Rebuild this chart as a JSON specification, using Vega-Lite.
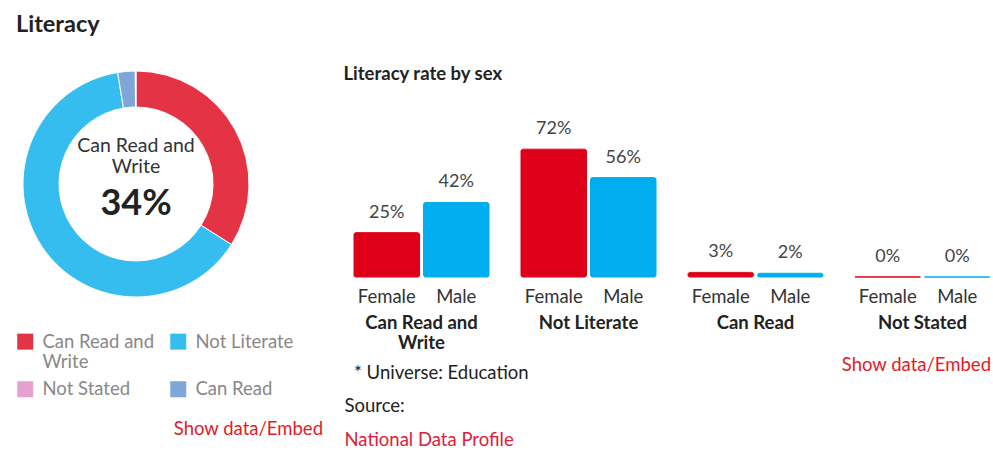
{
  "$schema": "https://vega.github.io/schema/vega-lite/v6.json",
  "background": "white",
  "padding": {"left": 16, "top": 13, "right": 4, "bottom": 2},
  "config": {
    "view": {"stroke": null},
    "font": "Lato",
    "concat": {"spacing": 20}
  },
  "resolve": {"scale": {"color": "independent", "stroke": "independent"}, "legend": {"color": "independent"}},
  "title": {"text": "Literacy", "anchor": "start", "fontSize": 23.5, "fontWeight": "bold", "color": "#222222", "offset": 28},
  "datasets": {
    "overall": [
      {"category": "Can Read and Write", "share": 0.34, "order": 1},
      {"category": "Not Literate", "share": 0.634, "order": 2},
      {"category": "Can Read", "share": 0.025, "order": 3},
      {"category": "Not Stated", "share": 0.001, "order": 4}
    ],
    "bysex": [
      {"category": "Can Read and Write", "sex": "Female", "share": 0.25},
      {"category": "Can Read and Write", "sex": "Male", "share": 0.42},
      {"category": "Not Literate", "sex": "Female", "share": 0.72},
      {"category": "Not Literate", "sex": "Male", "share": 0.56},
      {"category": "Can Read", "sex": "Female", "share": 0.026},
      {"category": "Can Read", "sex": "Male", "share": 0.021},
      {"category": "Not Stated", "sex": "Female", "share": 0.0},
      {"category": "Not Stated", "sex": "Male", "share": 0.0}
    ]
  },
  "hconcat": [
    {
      "width": 240,
      "height": 98,
      "data": {"name": "overall"},
      "title": {"text": "Show data/Embed", "orient": "bottom", "anchor": "end", "frame": "group", "color": "#e31b23", "fontSize": 18.5, "fontWeight": "normal", "dx": 67, "offset": 21},
      "layer": [
        {
          "mark": {"type": "arc", "outerRadius": 113, "innerRadius": 77, "stroke": "white", "strokeWidth": 1},
          "encoding": {
            "theta": {"field": "share", "type": "quantitative", "stack": true},
            "order": {"field": "order", "type": "quantitative"},
            "color": {
              "field": "category",
              "type": "nominal",
              "scale": {
                "domain": ["Can Read and Write", "Not Literate", "Not Stated", "Can Read"],
                "range": ["#e53346", "#35bdf0", "#e8a0d0", "#7ea6d8"]
              },
              "legend": {
                "title": null,
                "orient": "bottom",
                "direction": "horizontal",
                "columns": 2,
                "symbolType": "square",
                "symbolSize": 256,
                "symbolStrokeWidth": 0,
                "labelFontSize": 18.5,
                "labelColor": "#888888",
                "labelOffset": 8,
                "labelLimit": 200,
                "labelLineHeight": 20,
                "columnPadding": 14,
                "rowPadding": 8,
                "offset": 99,
                "labelExpr": "datum.label == 'Can Read and Write' ? ['Can Read and', 'Write'] : datum.label == 'Not Literate' ? ['Not Literate', ''] : datum.label"
              }
            }
          }
        },
        {
          "transform": [{"filter": "datum.category == 'Can Read and Write'"}],
          "mark": {"type": "text", "dy": -38, "fontSize": 19.5, "color": "#333333", "lineHeight": 21},
          "encoding": {"text": {"value": ["Can Read and", "Write"]}}
        },
        {
          "transform": [{"filter": "datum.category == 'Can Read and Write'"}],
          "mark": {"type": "text", "dy": 20, "fontSize": 36, "fontWeight": "bold", "color": "#222222"},
          "encoding": {"text": {"field": "share", "type": "quantitative", "format": ".0%"}}
        }
      ]
    },
    {
      "title": {
        "text": ["\u200c\u00a0\u00a0* Universe: Education", "Source:"],
        "subtitle": "National Data Profile",
        "orient": "bottom",
        "anchor": "start",
        "fontSize": 18.5,
        "fontWeight": "normal",
        "color": "#222222",
        "lineHeight": 33,
        "subtitleFontSize": 18.5,
        "subtitleColor": "#e0203a",
        "subtitlePadding": 16,
        "dx": 1,
        "offset": -11
      },
      "vconcat": [
        {
          "data": {"name": "bysex"},
          "title": {"text": "Literacy rate by sex", "anchor": "start", "fontSize": 18.5, "fontWeight": "bold", "color": "#222222", "dx": -10, "offset": 37},
          "spacing": 30,
          "facet": {
            "column": {
              "field": "category",
              "type": "nominal",
              "sort": ["Can Read and Write", "Not Literate", "Can Read", "Not Stated"],
              "header": {
                "labelOrient": "bottom",
                "labelFontSize": 18.5,
                "labelFontWeight": "bold",
                "labelColor": "#222222",
                "labelPadding": 8,
                "labelLineHeight": 20,
                "labelExpr": "datum.value == 'Can Read and Write' ? ['Can Read and', 'Write'] : datum.value",
                "title": "Show data/Embed",
                "titleOrient": "bottom",
                "titleAnchor": "end",
                "titleColor": "#e31b23",
                "titleFontSize": 18.5,
                "titleFontWeight": "normal",
                "titlePadding": -6
              }
            }
          },
          "spec": {
            "width": 135,
            "height": 142,
            "encoding": {
              "x": {
                "field": "sex",
                "type": "nominal",
                "scale": {"paddingInner": 0.0576, "paddingOuter": 0},
                "axis": {"title": null, "labelAngle": 0, "domain": false, "ticks": false, "tickSize": 0, "labelFontSize": 18.5, "labelColor": "#333333", "labelPadding": 9}
              },
              "y": {"field": "share", "type": "quantitative", "scale": {"domain": [0, 0.8]}, "axis": null}
            },
            "layer": [
              {
                "mark": {"type": "bar", "cornerRadius": 2, "strokeWidth": 1},
                "encoding": {
                  "color": {"field": "sex", "type": "nominal", "scale": {"domain": ["Female", "Male"], "range": ["#de0019", "#00adee"]}, "legend": null},
                  "stroke": {"field": "sex", "type": "nominal", "scale": {"domain": ["Female", "Male"], "range": ["#de0019", "#00adee"]}, "legend": null}
                }
              },
              {
                "mark": {"type": "text", "dy": -20, "fontSize": 18, "color": "#444444"},
                "encoding": {"text": {"field": "share", "type": "quantitative", "format": ".0%"}}
              }
            ]
          }
        }
      ]
    }
  ]
}
